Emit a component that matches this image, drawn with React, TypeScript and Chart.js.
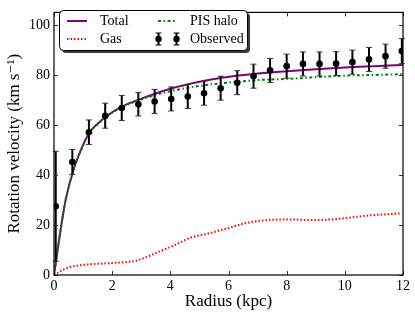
import React, { useEffect, useRef } from "react";
import { Chart, registerables } from "chart.js";

Chart.register(...registerables);

// ---- data ----
const obsRadius = [0.06, 0.63, 1.2, 1.76, 2.33, 2.9, 3.46, 4.03, 4.6, 5.16, 5.73, 6.3, 6.86, 7.43, 8.0, 8.56, 9.13, 9.7, 10.26, 10.83, 11.4, 11.96];
const obsVelocity = [27.5, 45.2, 57.1, 63.7, 66.8, 68.3, 69.4, 70.4, 71.4, 72.7, 74.7, 76.9, 79.5, 81.8, 83.5, 84.4, 84.4, 84.5, 85.1, 86.2, 87.5, 89.5];
const obsError = [22, 5, 4.9, 5, 5, 4.7, 4.8, 4.8, 4.8, 4.8, 4.8, 4.8, 4.8, 4.8, 4.8, 4.8, 4.8, 4.8, 4.8, 4.8, 4.8, 5];

const modelRadius = [0, 0.1, 0.2, 0.4, 0.67, 1.0, 1.22, 1.5, 1.83, 2.28, 3.0, 4.0, 5.0, 5.72, 7.1, 8.0, 9.0, 10.0, 11.0, 12.0];
const totalVelocity = [0, 8, 16, 30, 42, 52, 57, 60.5, 63.7, 67, 70.5, 74.5, 77.3, 78.8, 80.7, 81.5, 82.3, 83, 83.5, 84];
const haloVelocity = [0, 8, 16, 30, 42, 51.8, 56.8, 60.3, 63.5, 66.8, 70.2, 73.5, 75.6, 76.6, 78, 78.4, 79.1, 79.7, 80, 80.3];

const gasRadius = [0, 0.09, 0.3, 0.55, 0.9, 1.24, 1.7, 2.16, 2.5, 2.85, 3.31, 3.65, 4.0, 4.35, 4.69, 5.03, 5.38, 5.72, 6.07, 6.4, 6.76, 7.1, 7.45, 8.14, 8.83, 9.52, 10.2, 10.9, 11.6, 11.95];
const gasVelocity = [0, 0.6, 2.0, 3.2, 3.9, 4.3, 4.6, 4.9, 5.2, 5.8, 7.8, 9.5, 11.2, 13.1, 14.9, 15.9, 16.8, 17.9, 19.0, 20.2, 21.1, 21.7, 22.1, 22.2, 22.0, 22.2, 23.0, 23.9, 24.4, 24.7];

const xTicks = [0, 2, 4, 6, 8, 10, 12];
const yTicks = [0, 20, 40, 60, 80, 100];

const legendLabels = ["Total", "Gas", "PIS halo", "Observed"];

const FONT = "'Liberation Serif', 'DejaVu Serif', serif";
const PURPLE = "#800080";
const GREEN = "#008000";
const RED = "#ff0000";

const zip = (xs: number[], ys: number[]) => xs.map((x, i) => ({ x, y: ys[i] }));

const framePlugin = {
  id: "frameAndTicks",
  beforeDatasetDraw(chart: any, args: any) {
    if (args.index !== 3) return;
    const ctx = chart.ctx;
    const xs = chart.scales.x;
    const ys = chart.scales.y;
    ctx.save();
    ctx.strokeStyle = "#000";
    for (let i = 0; i < obsRadius.length; i++) {
      const px = xs.getPixelForValue(obsRadius[i]);
      const top = ys.getPixelForValue(obsVelocity[i] + obsError[i]);
      const bot = ys.getPixelForValue(obsVelocity[i] - obsError[i]);
      ctx.lineWidth = 2;
      ctx.beginPath();
      ctx.moveTo(px, top);
      ctx.lineTo(px, bot);
      ctx.stroke();
      ctx.lineWidth = 1;
      ctx.strokeStyle = "#333";
      ctx.beginPath();
      ctx.moveTo(px - 3, top);
      ctx.lineTo(px + 3, top);
      ctx.moveTo(px - 3, bot);
      ctx.lineTo(px + 3, bot);
      ctx.stroke();
      ctx.strokeStyle = "#000";
    }
    ctx.restore();
  },
  afterDraw(chart: any) {
    const ctx = chart.ctx;
    const { left, right, top, bottom } = chart.chartArea;
    const xs = chart.scales.x;
    const ys = chart.scales.y;
    ctx.save();
    // ticks inward on all sides
    ctx.strokeStyle = "#333";
    ctx.lineWidth = 1;
    ctx.beginPath();
    xTicks.forEach((v) => {
      const px = Math.round(xs.getPixelForValue(v)) + 0.5;
      ctx.moveTo(px, bottom);
      ctx.lineTo(px, bottom - 4);
      ctx.moveTo(px, top);
      ctx.lineTo(px, top + 4);
    });
    yTicks.forEach((v) => {
      const py = Math.round(ys.getPixelForValue(v)) + 0.5;
      ctx.moveTo(left, py);
      ctx.lineTo(left + 4, py);
      ctx.moveTo(right, py);
      ctx.lineTo(right - 4, py);
    });
    ctx.stroke();
    // frame
    ctx.strokeStyle = "#000";
    ctx.lineWidth = 1.2;
    ctx.strokeRect(left, top, right - left, bottom - top);

    // legend
    const bx = 59.5, by = 10.5, bw = 188, bh = 40, r = 4;
    const rr = (x: number, y: number) => {
      ctx.beginPath();
      ctx.moveTo(x + r, y);
      ctx.lineTo(x + bw - r, y);
      ctx.arcTo(x + bw, y, x + bw, y + r, r);
      ctx.lineTo(x + bw, y + bh - r);
      ctx.arcTo(x + bw, y + bh, x + bw - r, y + bh, r);
      ctx.lineTo(x + r, y + bh);
      ctx.arcTo(x, y + bh, x, y + bh - r, r);
      ctx.lineTo(x, y + r);
      ctx.arcTo(x, y, x + r, y, r);
      ctx.closePath();
    };
    rr(bx + 2.5, by + 2.5);
    ctx.fillStyle = "#3a3a3a";
    ctx.fill();
    rr(bx, by);
    ctx.fillStyle = "#fff";
    ctx.fill();
    ctx.strokeStyle = "#000";
    ctx.lineWidth = 1;
    ctx.stroke();

    const row1 = 21, row2 = 39;
    // Total
    ctx.lineWidth = 2;
    ctx.strokeStyle = PURPLE;
    ctx.setLineDash([]);
    ctx.beginPath(); ctx.moveTo(67, row1); ctx.lineTo(87, row1); ctx.stroke();
    // Gas
    ctx.strokeStyle = RED;
    ctx.setLineDash([1.5, 2]);
    ctx.beginPath(); ctx.moveTo(67, row2); ctx.lineTo(87, row2); ctx.stroke();
    // PIS halo
    ctx.strokeStyle = GREEN;
    ctx.setLineDash([3, 2.5, 1.5, 2.5]);
    ctx.beginPath(); ctx.moveTo(158, row1); ctx.lineTo(177, row1); ctx.stroke();
    ctx.setLineDash([]);
    // Observed
    ctx.strokeStyle = "#000";
    ctx.fillStyle = "#000";
    [158.5, 176.5].forEach((px) => {
      ctx.lineWidth = 2;
      ctx.beginPath(); ctx.moveTo(px, row2 - 6); ctx.lineTo(px, row2 + 6); ctx.stroke();
      ctx.lineWidth = 1;
      ctx.beginPath(); ctx.moveTo(px - 3, row2 - 6); ctx.lineTo(px + 3, row2 - 6);
      ctx.moveTo(px - 3, row2 + 6); ctx.lineTo(px + 3, row2 + 6); ctx.stroke();
      ctx.beginPath(); ctx.arc(px, row2, 3.2, 0, Math.PI * 2); ctx.fill();
    });
    ctx.fillStyle = "#000";
    ctx.font = `14px ${FONT}`;
    ctx.textBaseline = "middle";
    ctx.textAlign = "left";
    ctx.fillText(legendLabels[0], 100, row1 + 0.5);
    ctx.fillText(legendLabels[1], 100, row2 + 0.5);
    ctx.fillText(legendLabels[2], 190, row1 + 0.5);
    ctx.fillText(legendLabels[3], 190, row2 + 0.5);
    ctx.restore();
  },
};

export default function App() {
  const ref = useRef<HTMLCanvasElement>(null);
  useEffect(() => {
    if (!ref.current) return;
    const chart = new Chart(ref.current, {
      type: "line",
      data: {
        datasets: [
          {
            label: "Total",
            data: zip(modelRadius, totalVelocity),
            borderColor: PURPLE,
            borderWidth: 2,
            pointRadius: 0,
            cubicInterpolationMode: "monotone",
            order: 3,
          },
          {
            label: "Gas",
            data: zip(gasRadius, gasVelocity),
            borderColor: RED,
            borderWidth: 2,
            borderDash: [1.5, 2],
            pointRadius: 0,
            cubicInterpolationMode: "monotone",
            order: 2,
          },
          {
            label: "PIS halo",
            data: zip(modelRadius, haloVelocity),
            borderColor: GREEN,
            borderWidth: 2,
            borderDash: [3, 2.5, 1.5, 2.5],
            pointRadius: 0,
            cubicInterpolationMode: "monotone",
            order: 1,
          },
          {
            label: "Observed",
            data: zip(obsRadius, obsVelocity),
            showLine: false,
            borderColor: "#000",
            backgroundColor: "#000",
            pointRadius: 3.3,
            pointBorderWidth: 0,
            order: 0,
          },
        ],
      } as any,
      options: {
        animation: false,
        responsive: false,
        maintainAspectRatio: false,
        layout: { padding: { left: 0, right: 12, top: 4.5, bottom: 0 } },
        plugins: { legend: { display: false }, tooltip: { enabled: false } },
        scales: {
          x: {
            type: "linear",
            min: 0,
            max: 12,
            afterFit: (s: any) => { s.height = 40; },
            afterBuildTicks: (s: any) => { s.ticks = xTicks.map((v) => ({ value: v })); },
            grid: { display: false, drawTicks: false },
            border: { display: false },
            ticks: { color: "#000", font: { family: FONT, size: 14 }, padding: 3, maxRotation: 0 },
            title: { display: true, text: "Radius (kpc)", color: "#000", font: { family: FONT, size: 17 }, padding: { top: 0, bottom: 3 } },
          },
          y: {
            type: "linear",
            min: 0,
            max: 105,
            afterFit: (s: any) => { s.width = 54; },
            afterBuildTicks: (s: any) => { s.ticks = yTicks.map((v) => ({ value: v })); },
            grid: { display: false, drawTicks: false },
            border: { display: false },
            ticks: { color: "#000", font: { family: FONT, size: 14 }, padding: 4 },
            title: { display: true, text: "Rotation velocity (km s⁻¹)", color: "#000", font: { family: FONT, size: 17 }, padding: { top: 4, bottom: 0 } },
          },
        },
      } as any,
      plugins: [framePlugin],
    });
    return () => chart.destroy();
  }, []);
  return (
    <div style={{ position: "fixed", left: 0, top: 0, width: 415, height: 315, background: "#fff" }}>
      <canvas ref={ref} width={415} height={315} style={{ width: 415, height: 315 }} />
    </div>
  );
}
